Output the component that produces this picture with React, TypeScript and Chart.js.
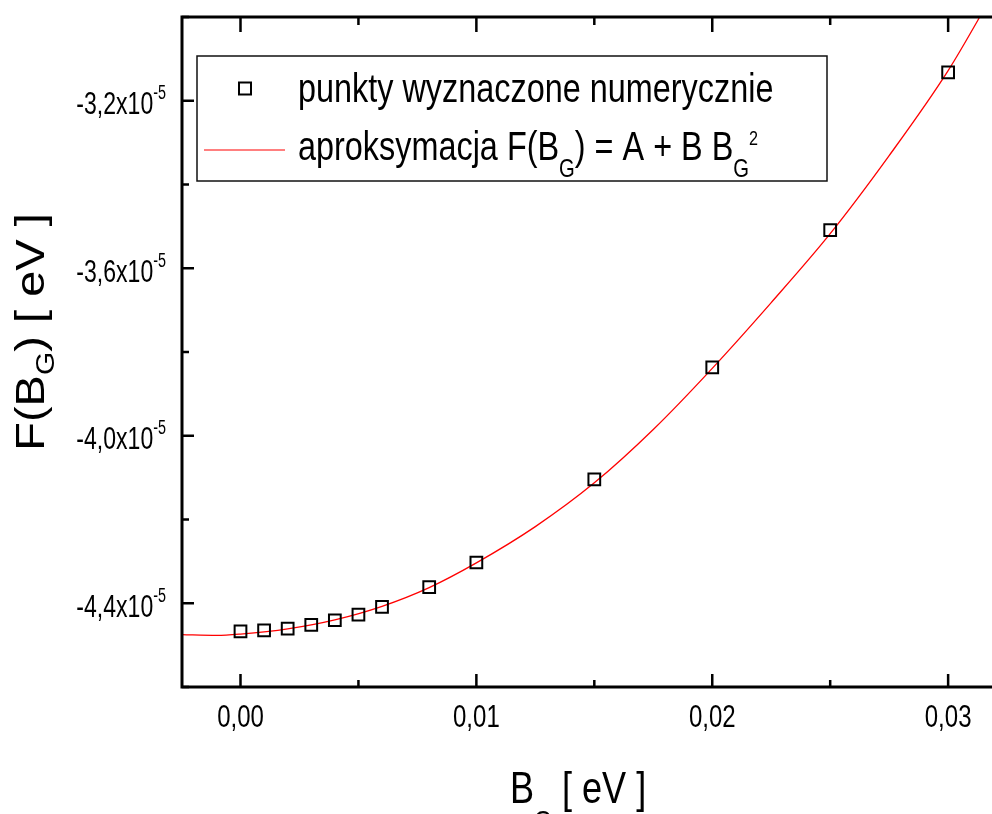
import React, { useEffect, useRef } from "react";
import { Chart, registerables } from "chart.js";

Chart.register(...registerables);

// ---- data ----
const X_POINTS = [0, 0.001, 0.002, 0.003, 0.004, 0.005, 0.006, 0.008, 0.01, 0.015, 0.02, 0.025, 0.03];
const Y_POINTS = [
  -4.467e-5, -4.4645e-5, -4.4605e-5, -4.4516e-5, -4.4406e-5, -4.427e-5, -4.4086e-5,
  -4.3617e-5, -4.3027e-5, -4.1043e-5, -3.8365e-5, -3.509e-5, -3.132e-5,
];

// fitted curve F(B_G) = A + B B_G^2
const X_FIT = [-0.00254, -0.001, 0, 0.002, 0.004, 0.006, 0.008, 0.01, 0.0125, 0.015, 0.0175, 0.02, 0.0225, 0.025, 0.0275, 0.03, 0.0319];
const Y_FIT = [
  -4.4748e-5, -4.4768e-5, -4.4735e-5, -4.461e-5, -4.4395e-5, -4.4072e-5, -4.3625e-5, -4.3035e-5,
  -4.217e-5, -4.1125e-5, -3.985e-5, -3.839e-5, -3.682e-5, -3.5175e-5, -3.331e-5, -3.128e-5, -2.945e-5,
];

const X_TICKS = [0, 0.005, 0.01, 0.015, 0.02, 0.025, 0.03];
const X_TICK_LABELS = ["0,00", "", "0,01", "", "0,02", "", "0,03"];
const Y_TICKS = [-4.6e-5, -4.4e-5, -4.2e-5, -4.0e-5, -3.8e-5, -3.6e-5, -3.4e-5, -3.2e-5, -3.0e-5];
const Y_TICK_LABELS = ["", "-4,4x10", "", "-4,0x10", "", "-3,6x10", "", "-3,2x10", ""];
const Y_TICK_EXP = "-5";

const X_MIN = -0.00248;
const X_MAX = 0.03186;
const Y_MIN = -4.6e-5;
const Y_MAX = -3.0e-5;

const LEGEND_POINTS = "punkty wyznaczone numerycznie";
const LEGEND_FIT = ["aproksymacja F(B", "G", ") = A + B B", "G", "2"];
const X_TITLE = ["B", "G", " [ eV ]"];
const Y_TITLE = ["F(B", "G", ") [ eV ]"];

const FONT = "'Liberation Sans', Arial, Helvetica, sans-serif";

type Seg = { t: string; size: number; dy?: number };

function drawSegs(
  ctx: CanvasRenderingContext2D,
  segs: Seg[],
  x: number,
  y: number,
  align: "left" | "right" | "center",
  sx: number,
  sy = 1,
  rotate = 0
) {
  ctx.save();
  ctx.translate(x, y);
  if (rotate) ctx.rotate(rotate);
  ctx.scale(sx, sy);
  ctx.textAlign = "left";
  ctx.textBaseline = "alphabetic";
  ctx.fillStyle = "#000";
  const widths = segs.map((s) => {
    ctx.font = `${s.size}px ${FONT}`;
    return ctx.measureText(s.t).width;
  });
  const total = widths.reduce((a, b) => a + b, 0);
  let cx = align === "left" ? 0 : align === "right" ? -total : -total / 2;
  segs.forEach((s, i) => {
    ctx.font = `${s.size}px ${FONT}`;
    ctx.fillText(s.t, cx, s.dy || 0);
    cx += widths[i];
  });
  ctx.restore();
}

const framePlugin = {
  id: "frameAndText",
  afterDraw(chart: any) {
    const ctx: CanvasRenderingContext2D = chart.ctx;
    const ca = chart.chartArea;
    const xs = chart.scales.x;
    const ys = chart.scales.y;
    ctx.save();
    ctx.strokeStyle = "#000";
    ctx.lineCap = "butt";

    // ticks (inward)
    ctx.lineWidth = 2.5;
    xs.ticks.forEach((t: any, i: number) => {
      const px = xs.getPixelForValue(t.value);
      if (px < ca.left - 0.5 || px > ca.right + 0.5) return;
      const major = X_TICK_LABELS[i] !== "";
      const lb = major ? 13 : 7;
      const lt = major ? 15 : 8;
      ctx.beginPath();
      ctx.moveTo(px, ca.bottom);
      ctx.lineTo(px, ca.bottom - lb);
      ctx.moveTo(px, ca.top);
      ctx.lineTo(px, ca.top + lt);
      ctx.stroke();
    });
    ys.ticks.forEach((t: any, i: number) => {
      const py = ys.getPixelForValue(t.value);
      const major = Y_TICK_LABELS[i] !== "";
      const l = major ? 12 : 7;
      ctx.beginPath();
      ctx.moveTo(ca.left, py);
      ctx.lineTo(ca.left + l, py);
      ctx.stroke();
    });

    // frame lines
    ctx.lineWidth = 3;
    ctx.beginPath();
    ctx.moveTo(ca.left, ca.top - 1.5);
    ctx.lineTo(ca.left, ca.bottom + 1.5);
    ctx.moveTo(ca.left - 1.5, ca.bottom);
    ctx.lineTo(ca.right, ca.bottom);
    ctx.moveTo(ca.left - 1.5, ca.top);
    ctx.lineTo(ca.right, ca.top);
    ctx.stroke();

    // tick labels
    xs.ticks.forEach((t: any, i: number) => {
      const lab = X_TICK_LABELS[i];
      if (!lab) return;
      const px = xs.getPixelForValue(t.value);
      drawSegs(ctx, [{ t: lab, size: 32 }], px, 727, "center", 0.75);
    });
    ys.ticks.forEach((t: any, i: number) => {
      const lab = Y_TICK_LABELS[i];
      if (!lab) return;
      const py = ys.getPixelForValue(t.value);
      drawSegs(
        ctx,
        [
          { t: lab, size: 32 },
          { t: Y_TICK_EXP, size: 20, dy: -15 },
        ],
        166,
        py + 13.5,
        "right",
        0.72
      );
    });

    // axis titles
    drawSegs(
      ctx,
      [
        { t: X_TITLE[0], size: 44 },
        { t: X_TITLE[1], size: 28, dy: 27 },
        { t: X_TITLE[2], size: 44 },
      ],
      510,
      803,
      "left",
      0.82
    );
    drawSegs(
      ctx,
      [
        { t: Y_TITLE[0], size: 47 },
        { t: Y_TITLE[1], size: 30, dy: 12 },
        { t: Y_TITLE[2], size: 47 },
      ],
      44,
      332,
      "center",
      1,
      0.85,
      -Math.PI / 2
    );

    // legend
    const lx0 = 197, ly0 = 56, lx1 = 827, ly1 = 181;
    ctx.fillStyle = "#fff";
    ctx.fillRect(lx0, ly0, lx1 - lx0, ly1 - ly0);
    ctx.lineWidth = 1.5;
    ctx.strokeStyle = "#111";
    ctx.strokeRect(lx0, ly0, lx1 - lx0, ly1 - ly0);
    ctx.lineWidth = 2;
    ctx.strokeStyle = "#000";
    ctx.strokeRect(245 - 6, 88.5 - 6, 12, 12);
    ctx.lineWidth = 1.2;
    ctx.strokeStyle = "#ff0000";
    ctx.beginPath();
    ctx.moveTo(204, 150);
    ctx.lineTo(285, 150);
    ctx.stroke();
    drawSegs(ctx, [{ t: LEGEND_POINTS, size: 40 }], 298, 102, "left", 0.81);
    drawSegs(
      ctx,
      [
        { t: LEGEND_FIT[0], size: 40 },
        { t: LEGEND_FIT[1], size: 25, dy: 17 },
        { t: LEGEND_FIT[2], size: 40 },
        { t: LEGEND_FIT[3], size: 25, dy: 17 },
        { t: LEGEND_FIT[4], size: 20, dy: -15 },
      ],
      298,
      160,
      "left",
      0.81
    );
    ctx.restore();
  },
};

export default function App() {
  const ref = useRef<HTMLCanvasElement | null>(null);
  useEffect(() => {
    if (!ref.current) return;
    const chart = new Chart(ref.current, {
      type: "scatter",
      data: {
        datasets: [
          {
            label: "punkty wyznaczone numerycznie",
            data: X_POINTS.map((x, i) => ({ x, y: Y_POINTS[i] })),
            showLine: false,
            pointStyle: "rect",
            pointRadius: 8.3,
            pointBorderWidth: 2,
            borderColor: "#000",
            pointBorderColor: "#000",
            backgroundColor: "rgba(0,0,0,0)",
            pointBackgroundColor: "rgba(0,0,0,0)",
            order: 1,
          } as any,
          {
            label: "aproksymacja",
            data: X_FIT.map((x, i) => ({ x, y: Y_FIT[i] })),
            showLine: true,
            borderColor: "#ff0000",
            borderWidth: 1.3,
            pointRadius: 0,
            cubicInterpolationMode: "monotone",
            order: 2,
          } as any,
        ],
      },
      options: {
        animation: false,
        responsive: false,
        devicePixelRatio: 1,
        events: [],
        layout: { autoPadding: false, padding: { top: 17, right: 0, left: 0, bottom: 0 } },
        plugins: { legend: { display: false }, tooltip: { enabled: false }, title: { display: false } },
        scales: {
          x: {
            type: "linear",
            min: X_MIN,
            max: X_MAX,
            grid: { display: false },
            border: { display: false },
            ticks: { display: false },
            afterBuildTicks: (s: any) => {
              s.ticks = X_TICKS.map((v) => ({ value: v }));
            },
            afterFit: (s: any) => {
              s.height = 127;
              s.paddingLeft = 0;
              s.paddingRight = 0;
            },
          },
          y: {
            type: "linear",
            min: Y_MIN,
            max: Y_MAX,
            grid: { display: false },
            border: { display: false },
            ticks: { display: false },
            afterBuildTicks: (s: any) => {
              s.ticks = Y_TICKS.map((v) => ({ value: v }));
            },
            afterFit: (s: any) => {
              s.width = 182;
              s.paddingTop = 0;
              s.paddingBottom = 0;
            },
          },
        },
      } as any,
      plugins: [framePlugin],
    });
    return () => chart.destroy();
  }, []);
  return (
    <div style={{ position: "absolute", left: 0, top: 0, width: 992, height: 814, background: "#fff" }}>
      <canvas ref={ref} width={992} height={814} style={{ display: "block", width: 992, height: 814 }} />
    </div>
  );
}
